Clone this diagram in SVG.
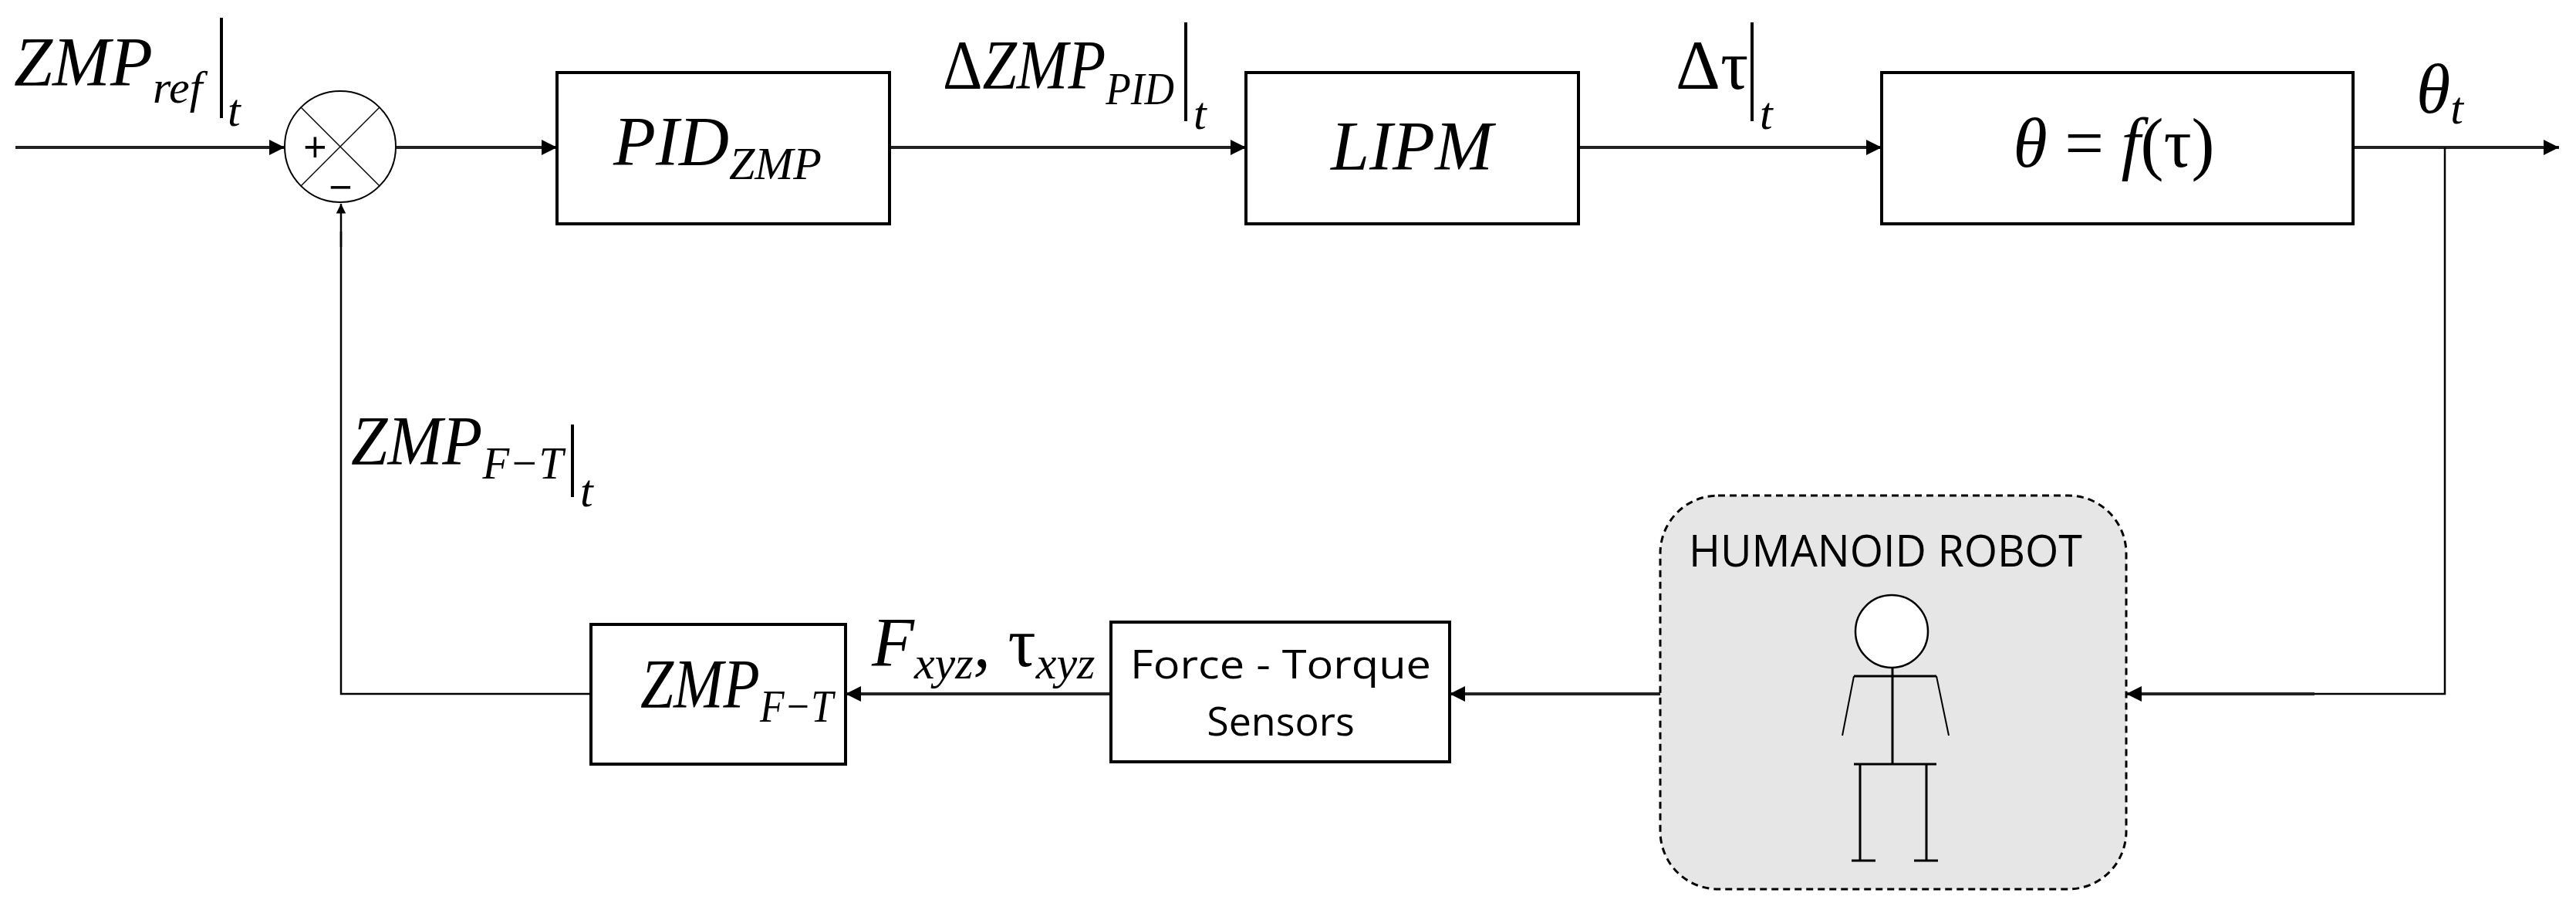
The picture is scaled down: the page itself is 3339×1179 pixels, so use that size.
<svg xmlns="http://www.w3.org/2000/svg" width="3339" height="1179" viewBox="0 0 3339 1179">
<style>
.box{fill:#fff;stroke:#000;stroke-width:4}
.ln{fill:none;stroke:#222;stroke-width:4}
.thin{fill:none;stroke:#000;stroke-width:2.5}
.m{font-family:"Liberation Serif",serif;font-style:italic;font-size:90px;fill:#000}
.s{font-size:60px}
.g{font-family:"Liberation Serif",serif;font-style:normal;fill:#000}
.sans{font-family:"Open Sans","Liberation Sans",sans-serif;fill:#000}
</style>
<defs>
<marker id="a" viewBox="0 0 10 10" refX="10" refY="5" markerWidth="5" markerHeight="5" orient="auto" markerUnits="strokeWidth"><path d="M0,0L10,5L0,10z" fill="#000"/></marker>
</defs>
<g id="connectors">
<line class="ln" x1="20" y1="191" x2="369" y2="191" marker-end="url(#a)"/>
<line class="ln" x1="514" y1="191" x2="722" y2="191" marker-end="url(#a)"/>
<line class="ln" x1="1153" y1="191" x2="1615" y2="191" marker-end="url(#a)"/>
<line class="ln" x1="2046" y1="191" x2="2439" y2="191" marker-end="url(#a)"/>
<line class="ln" x1="3050" y1="191" x2="3317" y2="191" marker-end="url(#a)"/>
<polyline class="thin" points="3169,191 3169,899 2780,899"/>
<line class="ln" x1="3000" y1="899" x2="2756" y2="899" marker-end="url(#a)"/>
<line class="ln" x1="2152" y1="899" x2="1879" y2="899" marker-end="url(#a)"/>
<line class="ln" x1="1440" y1="899" x2="1096" y2="899" marker-end="url(#a)"/>
<polyline class="thin" points="766,899 442,899 442,300"/>
<line class="thin" x1="442" y1="320" x2="442" y2="264" stroke-width="4" marker-end="url(#a)"/>
</g>
<g id="sum">
<circle cx="441" cy="190" r="72" fill="#fff" stroke="#000" stroke-width="2"/>
<line x1="390" y1="139" x2="492" y2="241" stroke="#000" stroke-width="1.5"/>
<line x1="492" y1="139" x2="390" y2="241" stroke="#000" stroke-width="1.5"/>
<text class="sans" x="393" y="210" font-size="54">+</text>
<text class="sans" x="426" y="262" font-size="54">−</text>
</g>
<g id="label-zmpref">
<text class="m" x="18" y="111">ZMP<tspan class="s" dy="22">ref</tspan></text>
<line x1="287" y1="23" x2="287" y2="153" stroke="#000" stroke-width="4"/>
<text class="m s" x="295" y="163">t</text>
</g>
<g id="pid">
<rect class="box" x="722" y="94" width="431" height="196"/>
<text class="m" x="795" y="214">PID<tspan class="s" dy="18">ZMP</tspan></text>
</g>
<g id="label-dzmp">
<text class="m" x="1222" y="115" textLength="300" lengthAdjust="spacingAndGlyphs"><tspan class="g">Δ</tspan>ZMP<tspan class="s" dy="20">PID</tspan></text>
<line x1="1537" y1="29" x2="1537" y2="157" stroke="#000" stroke-width="4"/>
<text class="m s" x="1547" y="167">t</text>
</g>
<g id="lipm">
<rect class="box" x="1615" y="94" width="431" height="196"/>
<text class="m" x="1830" y="220" text-anchor="middle">LIPM</text>
</g>
<g id="label-dtau">
<text class="m g" x="2172" y="115" style="font-style:normal">Δτ</text>
<line x1="2271" y1="29" x2="2271" y2="157" stroke="#000" stroke-width="4"/>
<text class="m s" x="2281" y="167">t</text>
</g>
<g id="theta-f">
<rect class="box" x="2439" y="94" width="611" height="196"/>
<text class="m" x="2740" y="216" text-anchor="middle">θ <tspan style="font-style:normal">=</tspan> f<tspan style="font-style:normal">(τ)</tspan></text>
</g>
<g id="label-theta">
<text class="m" x="3132" y="146">θ<tspan class="s" dy="14">t</tspan></text>
</g>
<g id="label-zmpft">
<text class="m" x="455" y="602" textLength="275" lengthAdjust="spacingAndGlyphs">ZMP<tspan class="s" dy="18">F−T</tspan></text>
<line x1="742" y1="550" x2="742" y2="644" stroke="#000" stroke-width="4"/>
<text class="m s" x="752" y="656">t</text>
</g>
<g id="zmpft">
<rect class="box" x="766" y="809" width="330" height="181"/>
<text class="m" x="830" y="917" textLength="250" lengthAdjust="spacingAndGlyphs">ZMP<tspan class="s" dy="18">F−T</tspan></text>
</g>
<g id="label-f">
<text class="m" x="1130" y="863">F<tspan class="s" dy="16">xyz</tspan><tspan dy="-16">, </tspan><tspan style="font-style:normal">τ</tspan><tspan class="s" dy="16">xyz</tspan></text>
</g>
<g id="ft">
<rect class="box" x="1440" y="806" width="439" height="181"/>
<text class="sans" x="1660" y="879" font-size="52" text-anchor="middle" textLength="390" lengthAdjust="spacingAndGlyphs">Force - Torque</text>
<text class="sans" x="1660" y="953" font-size="52" text-anchor="middle">Sensors</text>
</g>
<g id="robot">
<rect x="2152" y="642" width="604" height="510" rx="75" ry="75" fill="#e6e6e6" stroke="#000" stroke-width="3" stroke-dasharray="9,6"/>
<text class="sans" x="2444" y="734" font-size="56" text-anchor="middle" textLength="510" lengthAdjust="spacingAndGlyphs">HUMANOID ROBOT</text>
<ellipse cx="2452" cy="818" rx="47" ry="47" fill="#fff" stroke="#000" stroke-width="2.5"/>
<g stroke="#000" stroke-width="3" fill="none">
<line x1="2403" y1="876" x2="2510" y2="876"/>
<line x1="2453" y1="865" x2="2453" y2="990"/>
<line x1="2403" y1="876" x2="2388" y2="953" stroke-width="2"/>
<line x1="2510" y1="876" x2="2526" y2="953" stroke-width="2"/>
<line x1="2403" y1="990" x2="2510" y2="990"/>
<line x1="2411" y1="990" x2="2411" y2="1115"/>
<line x1="2497" y1="990" x2="2497" y2="1115"/>
<line x1="2400" y1="1115" x2="2431" y2="1115"/>
<line x1="2481" y1="1115" x2="2512" y2="1115"/>
</g>
</g>
</svg>
